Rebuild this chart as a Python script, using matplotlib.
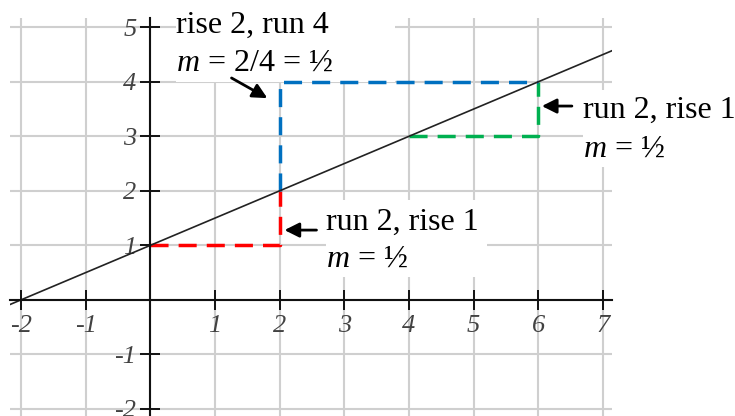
import matplotlib
matplotlib.use("Agg")
import matplotlib.pyplot as plt
from matplotlib.patches import Rectangle, FancyArrowPatch

# ---- data ----
x_ticks = [-2, -1, 1, 2, 3, 4, 5, 6, 7]
x_tick_labels = ["-2", "-1", "1", "2", "3", "4", "5", "6", "7"]
y_ticks = [-2, -1, 1, 2, 3, 4, 5]
y_tick_labels = ["-2", "-1", "1", "2", "3", "4", "5"]

line_x = [-2.2, 7.2]
line_y = [-0.1, 4.6]

red_x = [0, 2, 2]
red_y = [1, 1, 2]
blue_x = [2, 2, 6]
blue_y = [2, 4, 4]
green_x = [4, 6, 6]
green_y = [3, 3, 4]

top_label = ["rise 2, run 4", "$m$ = 2/4 = ½"]
right_label = ["run 2, rise 1", "$m$ = ½"]
low_label = ["run 2, rise 1", "$m$ = ½"]

# ---- style ----
plt.rcParams["mathtext.fontset"] = "custom"
plt.rcParams["mathtext.rm"] = "Liberation Serif"
plt.rcParams["mathtext.it"] = "Liberation Serif:italic"

W, H = 735, 416
fig = plt.figure(figsize=(W / 100, H / 100), dpi=100)
# axes placed in pixel extents: left 10, right 612, top 18, bottom 416
ax = fig.add_axes([10 / W, 0, (612 - 10) / W, (416 - 18) / H])
ax.set_xlim(-2.17, 7.14)
ax.set_ylim(-2.13, 5.17)

grid_col = "#cfcfcf"
for gx in [-2, -1, 0, 1, 2, 3, 4, 5, 6, 7]:
    ax.axvline(gx, color=grid_col, lw=1.5, zorder=0.5)
for gy in [-2, -1, 0, 1, 2, 3, 4, 5]:
    ax.axhline(gy, color=grid_col, lw=1.5, zorder=0.5)

for s in ["top", "right"]:
    ax.spines[s].set_visible(False)
ax.spines["left"].set_position(("data", 0))
ax.spines["bottom"].set_position(("data", 0))
for s in ["left", "bottom"]:
    ax.spines[s].set_linewidth(1.5)
    ax.spines[s].set_color("#111111")
    ax.spines[s].set_zorder(3)

tick_font = dict(family="Liberation Serif", style="italic", size=19, color="#424242")
ax.set_xticks(x_ticks)
ax.set_xticklabels(x_tick_labels, fontdict=tick_font)
ax.set_yticks(y_ticks)
ax.set_yticklabels(y_tick_labels, fontdict=tick_font)
ax.tick_params(axis="both", direction="inout", length=14, width=1.4, color="#111111")
ax.tick_params(axis="x", pad=4)
ax.tick_params(axis="y", pad=3)

# white boxes behind the annotation text
box_kw = dict(facecolor="white", edgecolor="none", zorder=1.5, clip_on=False)
ax.add_patch(Rectangle((0.40, 4.0), 3.38, 1.6, **box_kw))
ax.add_patch(Rectangle((2.72, 0.42), 2.48, 1.41, **box_kw))
ax.add_patch(Rectangle((6.69, 2.44), 2.6, 1.41, **box_kw))

# main line
ax.plot(line_x, line_y, color="#222222", lw=1.2, zorder=2.5)

# dashed rise/run paths
dash = (5.2, 2.9)
ax.plot(red_x, red_y, color="#FF0000", lw=2.5, dashes=dash, zorder=2)
ax.plot(green_x, green_y, color="#00B050", lw=2.5, dashes=dash, zorder=2)
ax.plot(blue_x, blue_y, color="#0070C0", lw=2.5, dashes=dash, zorder=2.2)

txt_kw = dict(family="Liberation Serif", size=23, color="black", ha="left",
              va="baseline", zorder=4, clip_on=False)
ax.text(0.40, 4.89, top_label[0], **txt_kw)
ax.text(0.40, 4.21, top_label[1], **txt_kw)
ax.text(6.69, 3.34, right_label[0], **txt_kw)
ax.text(6.69, 2.62, right_label[1], **txt_kw)
ax.text(2.72, 1.28, low_label[0], **txt_kw)
ax.text(2.72, 0.60, low_label[1], **txt_kw)

arr_kw = dict(arrowstyle="-|>", mutation_scale=22, lw=2, color="black",
              zorder=4, clip_on=False, shrinkA=0, shrinkB=0)
ax.add_patch(FancyArrowPatch((1.256, 4.07), (1.81, 3.70), **arr_kw))
ax.add_patch(FancyArrowPatch((6.52, 3.555), (6.055, 3.555), **arr_kw))
ax.add_patch(FancyArrowPatch((2.57, 1.28), (2.075, 1.28), **arr_kw))

fig.savefig("out.png", dpi=100)
